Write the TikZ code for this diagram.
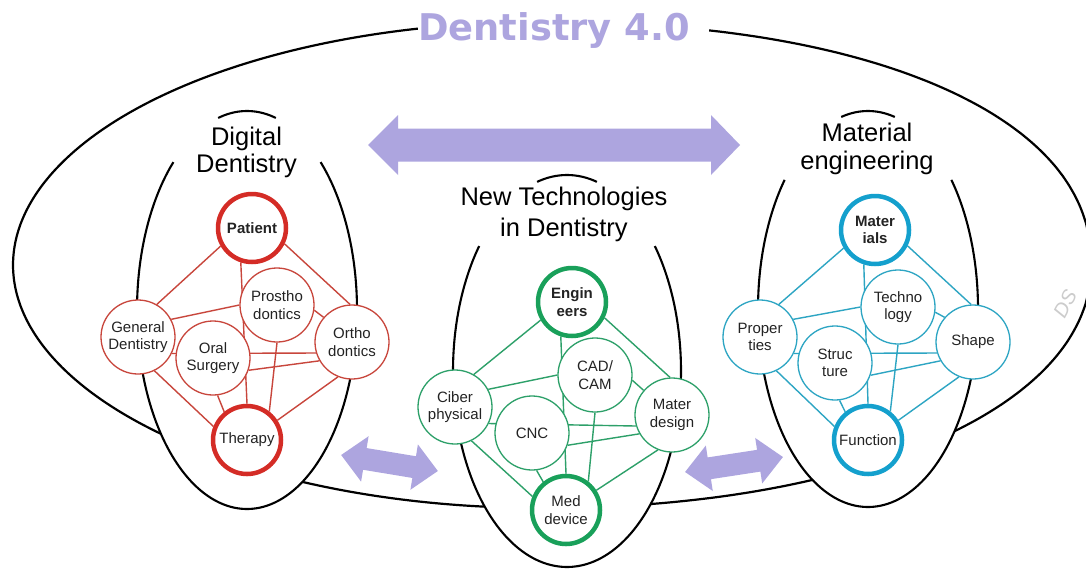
\documentclass[tikz,border=0pt]{standalone}
\usepackage{fontspec}
\setmainfont{Liberation Sans}
\newfontfamily\dejavu{DejaVu Sans}
\definecolor{lav}{RGB}{173,165,223}
\definecolor{redk}{RGB}{212,44,38}
\definecolor{redl}{RGB}{200,70,60}
\definecolor{greenk}{RGB}{25,160,90}
\definecolor{greenl}{RGB}{45,160,105}
\definecolor{bluek}{RGB}{20,160,205}
\definecolor{bluel}{RGB}{45,165,195}
\definecolor{txt}{RGB}{35,35,35}
\pgfdeclarelayer{bg}\pgfdeclarelayer{edges}\pgfsetlayers{bg,edges,main}
\newcommand{\netedges}[2]{%
\begin{pgfonlayer}{edges}
\draw[netedge=#2] (#1a.210) -- (#1c.60);
\draw[netedge=#2] (#1a.-26) -- (#1e.93);
\draw[netedge=#2] (#1a.-108) -- (#1f.90);
\draw[netedge=#2] (#1c.28) -- (#1b.180);
\draw[netedge=#2] (#1c.-26) -- (#1e.-163);
\draw[netedge=#2] (#1d.-19) -- (#1e.-150);
\draw[netedge=#2] (#1b.-8) -- (#1e.139);
\draw[netedge=#2] (#1b.-90) -- (#1f.52);
\draw[netedge=#2] (#1c.-64) -- (#1f.158);
\draw[netedge=#2] (#1d.-83) -- (#1f.129);
\draw[netedge=#2] (#1e.-112) -- (#1f.33);
\end{pgfonlayer}}
\newcommand{\innerell}[7]{% cx cy a b s e topdelta
\fill[white, variable=\t, domain=0:360, samples=120] plot ({#1+#3*cos(\t)},{#2+#4*sin(\t)}) -- cycle;
\draw[ellline, variable=\t, domain=#5:#6, samples=140, smooth] plot ({#1+#3*cos(\t)},{#2+#4*sin(\t)});
\draw[ellline, variable=\t, domain=-90-#7:-90+#7, samples=30, smooth] plot ({#1+#3*cos(\t)},{#2+#4*sin(\t)});}
\begin{document}
\begin{tikzpicture}[x=1pt,y=-1pt,
  outerline/.style={line width=2.2pt, black, line join=round},
  ellline/.style={line width=2.1pt, black},
  netc/.style={circle, draw=#1, line width=1.3pt, fill=white, minimum size=74pt, inner sep=0pt, align=center, text=txt, font=\fontsize{15}{17.5}\selectfont},
  keyc/.style={circle, draw=#1, line width=4.5pt, fill=white, minimum size=68pt, inner sep=0pt, align=center, text=txt, font=\fontsize{15}{17.5}\selectfont},
  netedge/.style={draw=#1, line width=1.4pt},
  heading/.style={align=center, inner sep=0pt, text=black, font=\fontsize{25.5}{27.5}\selectfont},
  lavarrow/.style={fill=lav}]
\useasboundingbox (0,0) rectangle (1086,571);
\begin{pgfonlayer}{bg}
\fill[white] (0,0) rectangle (1086,571);
\draw[outerline, variable=\t, smooth]
  plot[domain=90:270, samples=120] ({540+527*cos(\t)},{265+243*sin(\t)})
  -- plot[domain=89.9:0.1, samples=90] ({540+551*pow(cos(\t),0.909)},{265-243*pow(sin(\t),0.909)})
  -- plot[domain=0.1:89.9, samples=90] ({540+551*pow(cos(\t),0.952)},{265+243*pow(sin(\t),0.952)})
  -- cycle;
\innerell{247}{310}{110}{199}{-48}{228}{15.2}
\innerell{567}{371}{114}{196}{-39.6}{219.6}{15.2}
\innerell{868}{309}{110}{198}{-40.7}{220.7}{14.1}
\fill[lavarrow] (368,145) -- (398,115) -- (398,128.5) -- (711,128.5) -- (711,115) -- (740,145) -- (711,175) -- (711,161.5) -- (398,161.5) -- (398,175) -- cycle;
\fill[lavarrow, shift={(389.5,463)}, rotate=-9.4] (-49,0) -- (-25,-23) -- (-25,-11) -- (25,-11) -- (25,-23) -- (49,0) -- (25,23) -- (25,11) -- (-25,11) -- (-25,23) -- cycle;
\fill[lavarrow, shift={(734,464.5)}, rotate=8.7] (-49.5,0) -- (-25,-23) -- (-25,-11) -- (25,-11) -- (25,-23) -- (49.5,0) -- (25,23) -- (25,11) -- (-25,11) -- (-25,23) -- cycle;
\end{pgfonlayer}
\node[anchor=base west, inner xsep=0pt, inner ysep=2pt, fill=white, text=lav, font=\dejavu\bfseries\fontsize{36.8}{40}\selectfont] (title) at (418,40.5) {Dentistry 4.0\hspace*{19pt}};
\node[heading] (tdd) at (246.5,152.5) {Digital\\Dentistry};
\node[heading, font=\fontsize{25.5}{31}\selectfont] (tnt) at (564,214) {New Technologies\\in Dentistry};
\node[heading] (tme) at (867,149) {Material\\engineering};
\node[rotate=62, text=black!20, font=\itshape\fontsize{20}{20}\selectfont] (ds) at (1065,304) {DS};
% left network
\node[keyc=redk] (La) at (252,228) {\bfseries Patient};
\node[netc=redl] (Lb) at (277,305) {Prostho\\dontics};
\node[netc=redl] (Lc) at (138,337) {General\\Dentistry};
\node[netc=redl] (Ld) at (213,358) {Oral\\Surgery};
\node[netc=redl] (Le) at (352,342) {Ortho\\dontics};
\node[keyc=redk] (Lf) at (247,440) {Therapy};
\netedges{L}{redl}
% middle network
\node[keyc=greenk] (Ma) at (572,302) {\bfseries Engin\\\bfseries eers};
\node[netc=greenl] (Mb) at (595,375) {CAD/\\CAM};
\node[netc=greenl] (Mc) at (455,407) {Ciber\\physical};
\node[netc=greenl] (Md) at (532,433) {CNC};
\node[netc=greenl] (Me) at (672,415) {Mater\\design};
\node[keyc=greenk] (Mf) at (566,510) {Med\\device};
\netedges{M}{greenl}
% right network
\node[keyc=bluek] (Ra) at (875,230) {\bfseries Mater\\\bfseries ials};
\node[netc=bluel] (Rb) at (898,307) {Techno\\logy};
\node[netc=bluel] (Rc) at (760,337) {Proper\\ties};
\node[netc=bluel] (Rd) at (835,363) {Struc\\ture};
\node[netc=bluel] (Re) at (973,342) {Shape};
\node[keyc=bluek] (Rf) at (868,440) {Function};
\netedges{R}{bluel}
\end{tikzpicture}
\end{document}
